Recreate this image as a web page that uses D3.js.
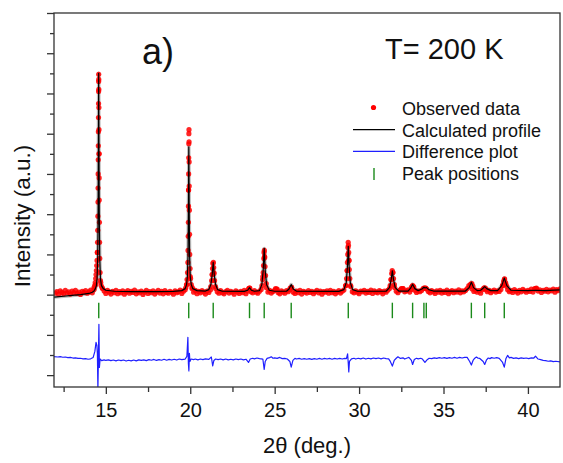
<!DOCTYPE html>
<html>
<head>
<meta charset="utf-8">
<script src="https://cdn.jsdelivr.net/npm/d3@7"></script>
<style>
  body { margin: 0; background: #fff; }
  text { font-family: "Liberation Sans", Arial, sans-serif; fill: #111; }
</style>
</head>
<body>
<div id="chart"></div>
<script>
const width = 563;
const height = 463;
const frameLeft = 54;
const frameRight = 560;
const frameTop = 13;
const frameBottom = 387;

// Bragg peak positions (green ticks)
const peakPositions = [14.58, 19.91, 21.36, 23.51, 24.38, 25.98, 29.36, 31.97, 33.17, 33.84, 33.98, 36.65, 37.44, 38.6];

// x ticks
const xMajorTicks = [15, 20, 25, 30, 35, 40];
const xMinorTicks = [12.5, 17.5, 22.5, 27.5, 32.5, 37.5];
// y ticks (arbitrary units, no labels)
const yMajorTicks = [-4, -2, 0, 2, 4, 6, 8, 10, 12, 14];
const yMinorTicks = [-3, -1, 1, 3, 5, 7, 9, 11, 13];

// observed data, scan (start 12.0, step 0.1)
const obsStart = 12.0;
const obsStep = 0.1;
const obsScan = [
  0.08, 0.15, 0.02, 0.19, 0.11, 0.05, 0.21, 0.09, 0.14, 0.03,
  0.18, 0.10, 0.22, 0.06, 0.13, 0.01, 0.17, 0.12, 0.20, 0.07,
  0.14, 0.23, 0.09, 0.26, 0.50, 2.10, 7.00, 0.60, 0.30, 0.18,
  0.06, 0.21, 0.12, 0.03, 0.17, 0.10, 0.22, 0.05, 0.15, 0.09,
  0.19, 0.02, 0.13, 0.20, 0.07, 0.16, 0.11, 0.23, 0.04, 0.14,
  0.09, 0.18, 0.01, 0.12, 0.21, 0.06, 0.15, 0.10, 0.19, 0.03,
  0.13, 0.22, 0.08, 0.17, 0.04, 0.20, 0.11, 0.07, 0.16, 0.12,
  0.02, 0.19, 0.10, 0.14, 0.23, 0.06, 0.17, 0.25, 0.50, 5.20,
  0.90, 0.30, 0.12, 0.21, 0.05, 0.16, 0.09, 0.20, 0.13, 0.03,
  0.18, 0.11, 0.24, 1.00, 1.10, 0.30, 0.14, 0.07, 0.20, 0.10,
  0.04, 0.15, 0.21, 0.08, 0.17, 0.12, 0.02, 0.19, 0.13, 0.06,
  0.16, 0.10, 0.22, 0.05, 0.18, 0.32, 0.14, 0.09, 0.20, 0.12,
  0.07, 0.17, 0.26, 0.90, 1.90, 0.35, 0.13, 0.21, 0.08, 0.16,
  0.22, 0.28, 0.11, 0.04, 0.19, 0.13, 0.07, 0.20, 0.15, 0.24,
  0.35, 0.12, 0.06, 0.18, 0.10, 0.21, 0.03, 0.16, 0.13, 0.08,
  0.20, 0.11, 0.17, 0.05, 0.14, 0.22, 0.09, 0.18, 0.02, 0.15,
  0.12, 0.19, 0.07, 0.21, 0.10, 0.16, 0.04, 0.13, 0.20, 0.08,
  0.17, 0.23, 0.45, 1.20, 1.70, 0.40, 0.15, 0.09, 0.19, 0.12,
  0.05, 0.18, 0.14, 0.21, 0.08, 0.16, 0.11, 0.23, 0.06, 0.19,
  0.13, 0.09, 0.20, 0.15, 0.04, 0.18, 0.12, 0.22, 0.30, 0.75,
  1.10, 0.35, 0.17, 0.10, 0.21, 0.28, 0.30, 0.14, 0.19, 0.24,
  0.13, 0.26, 0.42, 0.22, 0.11, 0.18, 0.15, 0.21, 0.30, 0.32,
  0.28, 0.16, 0.09, 0.20, 0.14, 0.06, 0.19, 0.12, 0.22, 0.08,
  0.17, 0.11, 0.23, 0.05, 0.15, 0.20, 0.10, 0.18, 0.13, 0.24,
  0.09, 0.19, 0.14, 0.21, 0.30, 0.45, 0.50, 0.28, 0.16, 0.22,
  0.12, 0.20, 0.07, 0.24, 0.32, 0.25, 0.15, 0.21, 0.10, 0.18,
  0.23, 0.13, 0.19, 0.16, 0.26, 0.45, 0.75, 0.50, 0.24, 0.15,
  0.20, 0.11, 0.25, 0.17, 0.08, 0.22, 0.14, 0.26, 0.19, 0.12,
  0.21, 0.16, 0.27, 0.13, 0.28, 0.30, 0.18, 0.24, 0.11, 0.22,
  0.17, 0.26, 0.14, 0.23, 0.19, 0.28, 0.12, 0.25, 0.20, 0.29
];

// observed data on the peaks [2theta, intensity]
const obsPeaks = [
  [14.30, 0.35], [14.34, 0.45], [14.37, 0.6], [14.40, 0.8], [14.42, 1.0], [14.44, 1.2], [14.46, 1.45],
  [14.48, 1.7], [14.50, 2.1], [14.51, 2.6], [14.52, 3.2], [14.53, 3.9], [14.535, 4.6], [14.54, 5.3],
  [14.545, 6.0], [14.55, 6.7], [14.555, 7.4], [14.56, 8.1], [14.565, 8.8], [14.57, 9.5], [14.572, 10.1],
  [14.575, 10.6], [14.578, 10.95], [14.582, 10.7], [14.585, 10.2], [14.59, 9.3], [14.595, 8.2],
  [14.60, 7.0], [14.605, 5.8], [14.61, 4.7], [14.62, 3.6], [14.63, 2.6], [14.64, 1.8], [14.66, 1.1],
  [14.68, 0.7], [14.72, 0.45], [14.78, 0.35],
  [19.74, 0.35], [19.78, 0.5], [19.81, 0.75], [19.84, 1.1], [19.86, 1.6], [19.87, 2.2], [19.88, 2.9],
  [19.89, 3.6], [19.895, 4.4], [19.90, 5.2], [19.905, 6.0], [19.91, 6.8], [19.915, 7.5], [19.92, 8.0],
  [19.925, 8.2], [19.93, 7.6], [19.935, 6.6], [19.94, 5.4], [19.95, 4.2], [19.96, 3.0], [19.97, 2.0],
  [19.99, 1.3], [20.02, 0.8], [20.06, 0.5], [20.12, 0.35],
  [21.22, 0.4], [21.27, 0.7], [21.30, 1.0], [21.32, 1.3], [21.34, 1.55], [21.37, 1.6], [21.39, 1.35],
  [21.41, 1.05], [21.44, 0.7], [21.49, 0.4],
  [23.46, 0.3], [23.53, 0.33],
  [24.25, 0.45], [24.29, 0.75], [24.32, 1.1], [24.34, 1.45], [24.36, 1.8], [24.37, 2.1], [24.39, 2.2],
  [24.41, 1.85], [24.43, 1.4], [24.46, 0.95], [24.50, 0.55],
  [25.05, 0.3], [25.15, 0.28], [25.92, 0.33], [26.0, 0.36],
  [29.22, 0.45], [29.26, 0.8], [29.29, 1.2], [29.31, 1.6], [29.33, 2.0], [29.34, 2.35], [29.355, 2.6],
  [29.37, 2.45], [29.385, 2.1], [29.40, 1.7], [29.42, 1.25], [29.45, 0.8], [29.50, 0.45],
  [31.84, 0.45], [31.89, 0.75], [31.93, 1.05], [31.96, 1.2], [32.0, 1.1], [32.04, 0.8], [32.09, 0.5],
  [32.5, 0.3], [32.6, 0.3], [33.1, 0.38], [33.17, 0.45], [33.24, 0.38], [33.84, 0.32], [33.95, 0.33],
  [36.56, 0.4], [36.62, 0.52], [36.68, 0.55], [36.74, 0.42], [37.4, 0.32], [37.48, 0.33],
  [38.5, 0.45], [38.56, 0.65], [38.62, 0.78], [38.68, 0.6], [38.75, 0.4], [40.4, 0.3], [40.5, 0.32]
];

// calculated profile [2theta, intensity]
const calcProfile = [
  [11.93, -0.12], [12.5, -0.08], [13.0, -0.04], [13.5, 0.0], [14.0, 0.06], [14.2, 0.12], [14.3, 0.18],
  [14.38, 0.3], [14.44, 0.45], [14.48, 0.8], [14.52, 1.8], [14.545, 4.2], [14.563, 8.0], [14.576, 11.0],
  [14.59, 8.0], [14.61, 4.2], [14.64, 1.8], [14.68, 0.8], [14.74, 0.45], [14.85, 0.3], [15.0, 0.22],
  [15.5, 0.17], [16.5, 0.15], [18.0, 0.15], [19.0, 0.16], [19.5, 0.2], [19.7, 0.3], [19.78, 0.5],
  [19.83, 0.9], [19.87, 2.0], [19.895, 4.5], [19.915, 7.35], [19.935, 4.5], [19.96, 2.0], [20.0, 0.9],
  [20.06, 0.5], [20.15, 0.3], [20.4, 0.2], [20.9, 0.18], [21.1, 0.25], [21.22, 0.5], [21.3, 1.0],
  [21.36, 1.6], [21.42, 1.0], [21.5, 0.5], [21.62, 0.25], [21.9, 0.17], [23.2, 0.16], [23.4, 0.22],
  [23.51, 0.35], [23.62, 0.22], [23.8, 0.17], [24.1, 0.2], [24.24, 0.5], [24.32, 1.2], [24.38, 2.3],
  [24.44, 1.2], [24.52, 0.5], [24.68, 0.22], [25.0, 0.17], [25.7, 0.17], [25.85, 0.28], [25.98, 0.5],
  [26.1, 0.28], [26.3, 0.17], [28.8, 0.16], [29.1, 0.25], [29.24, 0.6], [29.31, 1.4], [29.36, 2.4],
  [29.41, 1.4], [29.48, 0.6], [29.62, 0.25], [29.9, 0.17], [31.6, 0.17], [31.8, 0.35], [31.9, 0.75],
  [31.97, 1.18], [32.04, 0.75], [32.14, 0.35], [32.35, 0.18], [32.9, 0.18], [33.05, 0.32], [33.17, 0.52],
  [33.3, 0.3], [33.5, 0.2], [33.72, 0.28], [33.84, 0.37], [33.91, 0.33], [33.98, 0.36], [34.12, 0.25],
  [34.4, 0.18], [36.3, 0.18], [36.52, 0.35], [36.65, 0.62], [36.78, 0.35], [37.0, 0.2], [37.2, 0.22],
  [37.34, 0.32], [37.44, 0.4], [37.56, 0.3], [37.8, 0.2], [38.2, 0.2], [38.45, 0.45], [38.6, 0.82],
  [38.75, 0.45], [39.0, 0.22], [40.0, 0.2], [40.46, 0.22], [41.0, 0.2], [41.9, 0.24]
];

// difference curve (obs - calc) [2theta, value], drawn at an offset
const diffOffset = -3.22;
const diffProfile = [
  [11.93, 0.14], [12.15, 0.12], [12.3, 0.14], [12.45, 0.11], [12.6, 0.12], [12.75, 0.09], [12.9, 0.1],
  [13.05, 0.07], [13.2, 0.08], [13.35, 0.05], [13.5, 0.06], [13.65, 0.03], [13.8, 0.04], [13.95, 0.01],
  [14.1, 0.03], [14.25, 0.1], [14.35, 0.4], [14.42, 0.85], [14.47, 0.7], [14.5, 0.3], [14.53, -1.5],
  [14.56, 0.1], [14.59, 1.75], [14.62, -0.4], [14.66, 0.02], [14.75, -0.06], [14.9, -0.02], [15.0, -0.05],
  [15.15, -0.02], [15.3, -0.06], [15.45, -0.03], [15.6, -0.07], [15.75, -0.03], [15.9, -0.06],
  [16.05, -0.03], [16.2, -0.08], [16.35, -0.04], [16.5, -0.07], [16.65, -0.03], [16.8, -0.07],
  [16.95, -0.02], [17.1, -0.05], [17.25, -0.02], [17.4, -0.06], [17.55, -0.01], [17.7, -0.04],
  [17.85, 0.0], [18.0, -0.05], [18.15, -0.01], [18.3, -0.04], [18.45, 0.01], [18.6, -0.04], [18.75, 0.0],
  [18.9, -0.03], [19.05, 0.01], [19.2, -0.03], [19.35, 0.02], [19.5, -0.01], [19.7, 0.02], [19.8, 0.15],
  [19.86, 1.1], [19.89, -0.2], [19.92, -0.57], [19.95, 0.3], [19.98, -0.1], [20.05, 0.02], [20.2, -0.01],
  [20.3, 0.02], [20.45, -0.02], [20.6, 0.02], [20.75, -0.01], [20.9, 0.03], [21.1, 0.0], [21.25, 0.12],
  [21.33, -0.32], [21.4, -0.05], [21.5, 0.02], [21.65, -0.01], [21.8, 0.02], [21.95, -0.02], [22.1, 0.02],
  [22.25, -0.02], [22.4, 0.01], [22.55, -0.02], [22.7, 0.02], [22.85, -0.01], [23.0, 0.02], [23.15, -0.02],
  [23.3, 0.01], [23.45, -0.15], [23.55, 0.02], [23.7, 0.06], [23.8, 0.03], [23.95, 0.07], [24.1, 0.04],
  [24.3, 0.02], [24.38, -0.5], [24.44, -0.1], [24.55, 0.05], [24.7, 0.09], [24.8, 0.13], [24.9, 0.06],
  [25.0, 0.08], [25.15, 0.05], [25.3, 0.1], [25.45, 0.04], [25.6, 0.05], [25.75, 0.02], [25.9, -0.1],
  [25.98, -0.38], [26.08, -0.05], [26.2, 0.05], [26.3, 0.02], [26.45, 0.05], [26.6, 0.01], [26.75, 0.04],
  [26.9, 0.01], [27.05, 0.04], [27.2, 0.0], [27.35, 0.04], [27.5, 0.01], [27.65, 0.05], [27.8, 0.01],
  [27.95, 0.05], [28.1, 0.02], [28.25, 0.05], [28.4, 0.01], [28.55, 0.05], [28.7, 0.02], [28.85, 0.05],
  [29.0, 0.02], [29.15, 0.05], [29.25, 0.04], [29.32, 0.28], [29.36, -0.2], [29.39, -0.62], [29.43, -0.1],
  [29.55, 0.03], [29.7, 0.06], [29.8, 0.02], [29.95, 0.06], [30.1, 0.03], [30.25, 0.07], [30.4, 0.02],
  [30.55, 0.06], [30.7, 0.03], [30.85, 0.07], [31.0, 0.04], [31.15, 0.07], [31.3, 0.03], [31.45, 0.07],
  [31.6, 0.04], [31.75, 0.03], [31.85, -0.1], [31.97, -0.33], [32.08, -0.05], [32.2, 0.06], [32.3, 0.13],
  [32.45, 0.05], [32.6, 0.08], [32.7, 0.02], [32.85, 0.07], [32.95, 0.1], [33.1, -0.05], [33.17, -0.25],
  [33.27, 0.0], [33.4, 0.06], [33.5, 0.03], [33.65, 0.06], [33.75, 0.02], [33.9, -0.15], [34.05, 0.0],
  [34.15, 0.06], [34.3, 0.04], [34.45, 0.08], [34.6, 0.05], [34.75, 0.09], [34.9, 0.06], [35.05, 0.09],
  [35.2, 0.05], [35.35, 0.09], [35.5, 0.06], [35.65, 0.1], [35.8, 0.06], [35.95, 0.1], [36.1, 0.07],
  [36.25, 0.1], [36.4, 0.1], [36.55, -0.1], [36.65, -0.28], [36.75, -0.05], [36.85, 0.06], [36.95, 0.12],
  [37.05, 0.06], [37.15, 0.05], [37.35, -0.1], [37.44, -0.25], [37.55, -0.02], [37.65, 0.07], [37.75, 0.04],
  [37.85, 0.09], [38.0, 0.06], [38.15, 0.09], [38.3, 0.05], [38.5, -0.15], [38.6, -0.38], [38.7, 0.05],
  [38.8, 0.2], [38.9, 0.08], [39.0, 0.1], [39.15, 0.05], [39.3, 0.08], [39.45, 0.04], [39.6, 0.08],
  [39.75, 0.05], [39.9, 0.07], [40.05, 0.04], [40.2, 0.08], [40.35, 0.07], [40.45, 0.16], [40.6, 0.02],
  [40.75, -0.01], [40.9, -0.05], [41.05, -0.06], [41.2, -0.09], [41.35, -0.07], [41.5, -0.11],
  [41.65, -0.09], [41.9, -0.12]
];

// tick marks of the Bragg positions (intensity units)
const braggTop = -0.4;
const braggBottom = -1.17;

const legendItems = ['Observed data', 'Calculated profile', 'Difference plot', 'Peak positions'];

const svg = d3.select('#chart')
  .append('svg')
  .attr('width', width)
  .attr('height', height);

const x = d3.scaleLinear()
  .domain([11.93, 41.9])
  .range([frameLeft, frameRight]);

const y = d3.scaleLinear()
  .domain([-4.59, 14.0])
  .range([frameBottom, frameTop]);

svg.append('clipPath')
  .attr('id', 'clip')
  .append('rect')
  .attr('x', frameLeft)
  .attr('y', frameTop)
  .attr('width', frameRight - frameLeft)
  .attr('height', frameBottom - frameTop);

const plot = svg.append('g').attr('clip-path', 'url(#clip)');

const line = d3.line()
  .x(d => x(d[0]))
  .y(d => y(d[1]));

// gray halo of the calculated profile
plot.append('path')
  .datum(calcProfile)
  .attr('fill', 'none')
  .attr('stroke', '#bdbdbd')
  .attr('stroke-width', 3.5)
  .attr('stroke-linejoin', 'round')
  .attr('d', line);

// observed points
const obsData = obsScan.map((v, i) => [obsStart + i * obsStep, v]).concat(obsPeaks);

plot.selectAll('.obs')
  .data(obsData)
  .enter()
  .append('circle')
  .attr('class', 'obs')
  .attr('cx', d => x(d[0]))
  .attr('cy', d => y(d[1]))
  .attr('r', 2.6)
  .attr('fill', '#ff0000')
  .attr('fill-opacity', 0.85);

// calculated profile
plot.append('path')
  .datum(calcProfile)
  .attr('fill', 'none')
  .attr('stroke', '#000')
  .attr('stroke-width', 1.2)
  .attr('stroke-linejoin', 'round')
  .attr('d', line);

// Bragg positions
plot.selectAll('.bragg')
  .data(peakPositions)
  .enter()
  .append('line')
  .attr('class', 'bragg')
  .attr('x1', d => x(d))
  .attr('x2', d => x(d))
  .attr('y1', y(braggTop))
  .attr('y2', y(braggBottom))
  .attr('stroke', '#1a8a1a')
  .attr('stroke-width', 1.4);

// difference curve
plot.append('path')
  .datum(diffProfile)
  .attr('fill', 'none')
  .attr('stroke', '#1f1fff')
  .attr('stroke-width', 1.2)
  .attr('stroke-linejoin', 'round')
  .attr('d', d3.line().x(d => x(d[0])).y(d => y(d[1] + diffOffset)));

// frame
svg.append('rect')
  .attr('x', frameLeft)
  .attr('y', frameTop)
  .attr('width', frameRight - frameLeft)
  .attr('height', frameBottom - frameTop)
  .attr('fill', 'none')
  .attr('stroke', '#333')
  .attr('stroke-width', 1.3);

// x axis
const xAxis = svg.append('g')
  .attr('transform', `translate(0, ${frameBottom})`)
  .call(d3.axisBottom(x).tickValues(xMajorTicks).tickSize(7).tickSizeOuter(0).tickPadding(9).tickFormat(d3.format('d')));

svg.append('g')
  .attr('transform', `translate(0, ${frameBottom})`)
  .call(d3.axisBottom(x).tickValues(xMinorTicks).tickSize(5).tickSizeOuter(0).tickFormat(''));

// y axis, no labels
svg.append('g')
  .attr('transform', `translate(${frameLeft}, 0)`)
  .call(d3.axisLeft(y).tickValues(yMajorTicks).tickSize(7).tickSizeOuter(0).tickFormat(''));

svg.append('g')
  .attr('transform', `translate(${frameLeft}, 0)`)
  .call(d3.axisLeft(y).tickValues(yMinorTicks).tickSize(4).tickSizeOuter(0).tickFormat(''));

svg.selectAll('.domain').remove();
svg.selectAll('.tick line').attr('stroke', '#333').attr('stroke-width', 1.3);
xAxis.selectAll('.tick text')
  .attr('font-size', 20)
  .attr('font-family', '"Liberation Sans", Arial, sans-serif')
  .attr('fill', '#111');

// axis titles
svg.append('text')
  .attr('x', 307)
  .attr('y', 453)
  .attr('text-anchor', 'middle')
  .attr('font-size', 22)
  .text('2θ (deg.)');

svg.append('text')
  .attr('transform', 'translate(30, 216) rotate(-90)')
  .attr('text-anchor', 'middle')
  .attr('font-size', 22.5)
  .text('Intensity (a.u.)');

// panel label and temperature
svg.append('text')
  .attr('x', 142)
  .attr('y', 63.5)
  .attr('font-size', 36)
  .text('a)');

svg.append('text')
  .attr('x', 385)
  .attr('y', 58.5)
  .attr('font-size', 29)
  .text('T= 200 K');

// legend
const legendX = 402;
const legendY0 = 115;
const legendDy = 21.7;
const legend = svg.append('g').attr('class', 'legend');

legend.selectAll('text')
  .data(legendItems)
  .enter()
  .append('text')
  .attr('x', legendX)
  .attr('y', (d, i) => legendY0 + i * legendDy)
  .attr('font-size', 18)
  .text(d => d);

legend.append('circle')
  .attr('cx', 373.5)
  .attr('cy', legendY0 - 7.5)
  .attr('r', 2.6)
  .attr('fill', '#ff0000');

legend.append('line')
  .attr('x1', 353).attr('x2', 395)
  .attr('y1', legendY0 + legendDy - 7).attr('y2', legendY0 + legendDy - 7)
  .attr('stroke', '#000').attr('stroke-width', 1.2);

legend.append('line')
  .attr('x1', 353).attr('x2', 395)
  .attr('y1', legendY0 + 2 * legendDy - 7).attr('y2', legendY0 + 2 * legendDy - 7)
  .attr('stroke', '#1f1fff').attr('stroke-width', 1.2);

legend.append('line')
  .attr('x1', 374).attr('x2', 374)
  .attr('y1', legendY0 + 3 * legendDy - 12).attr('y2', legendY0 + 3 * legendDy)
  .attr('stroke', '#1a8a1a').attr('stroke-width', 1.4);
</script>
</body>
</html>
